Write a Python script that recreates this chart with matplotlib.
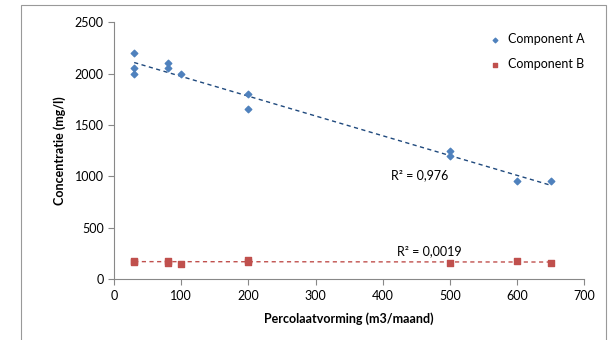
import numpy as np
import matplotlib
matplotlib.use("Agg")
import matplotlib.pyplot as plt
from matplotlib.patches import Rectangle

plt.rcParams['font.family'] = ['Lato', 'DejaVu Sans']

# data
x_a = [30, 30, 30, 80, 80, 100, 200, 200, 500, 500, 600, 650]
y_a = [2200, 2050, 2000, 2100, 2050, 2000, 1800, 1650, 1250, 1200, 950, 950]
x_b = [30, 30, 80, 80, 100, 200, 200, 500, 600, 650]
y_b = [180, 165, 180, 160, 150, 190, 170, 155, 180, 160]
r2_a = "R² = 0,976"
r2_b = "R² = 0,0019"

blue = '#4F81BD'
red = '#C0504D'
grey = '#888888'

fig = plt.figure(figsize=(6.13, 3.4), dpi=100)
ax = fig.add_axes([0.186, 0.179, 0.767, 0.756])

# chart border (outer area)
fig.patches.append(Rectangle((21 / 613, -0.1), 585 / 613, 1.085, transform=fig.transFigure,
                             fill=False, edgecolor='#999999', linewidth=0.8))

ax.scatter(x_a, y_a, marker='D', s=11, color=blue, label='Component A', zorder=3)
ax.scatter(x_b, y_b, marker='s', s=14, color=red, label='Component B', zorder=3)

# linear trendlines
for xs, ys, col in [(x_a, y_a, '#1F497D'), (x_b, y_b, red)]:
    k, m = np.polyfit(xs, ys, 1)
    xx = np.array([min(xs), max(xs)])
    ax.plot(xx, k * xx + m, linestyle=(0, (3, 2.5)), color=col, linewidth=1.0, zorder=2)

ax.text(455, 1010, r2_a, fontsize=9, ha='center', va='center')
ax.text(470, 275, r2_b, fontsize=9, ha='center', va='center')

ax.set_xlim(0, 700)
ax.set_ylim(0, 2500)
ax.set_xticks(range(0, 701, 100))
ax.set_yticks(range(0, 2501, 500))
ax.tick_params(labelsize=9, color=grey, length=4, width=0.8)
for s in ['top', 'right']:
    ax.spines[s].set_visible(False)
for s in ['left', 'bottom']:
    ax.spines[s].set_color(grey)
    ax.spines[s].set_linewidth(0.8)

ax.set_xlabel('Percolaatvorming (m3/maand)', fontsize=9, fontweight='bold', labelpad=8)
ax.set_ylabel('Concentratie (mg/l)', fontsize=9, fontweight='bold', labelpad=6)

ax.legend(loc='upper left', bbox_to_anchor=(0.76, 1.0), frameon=False, fontsize=9,
          handletextpad=0.0, labelspacing=1.0, markerscale=0.7)

fig.savefig('out.png', dpi=100)
